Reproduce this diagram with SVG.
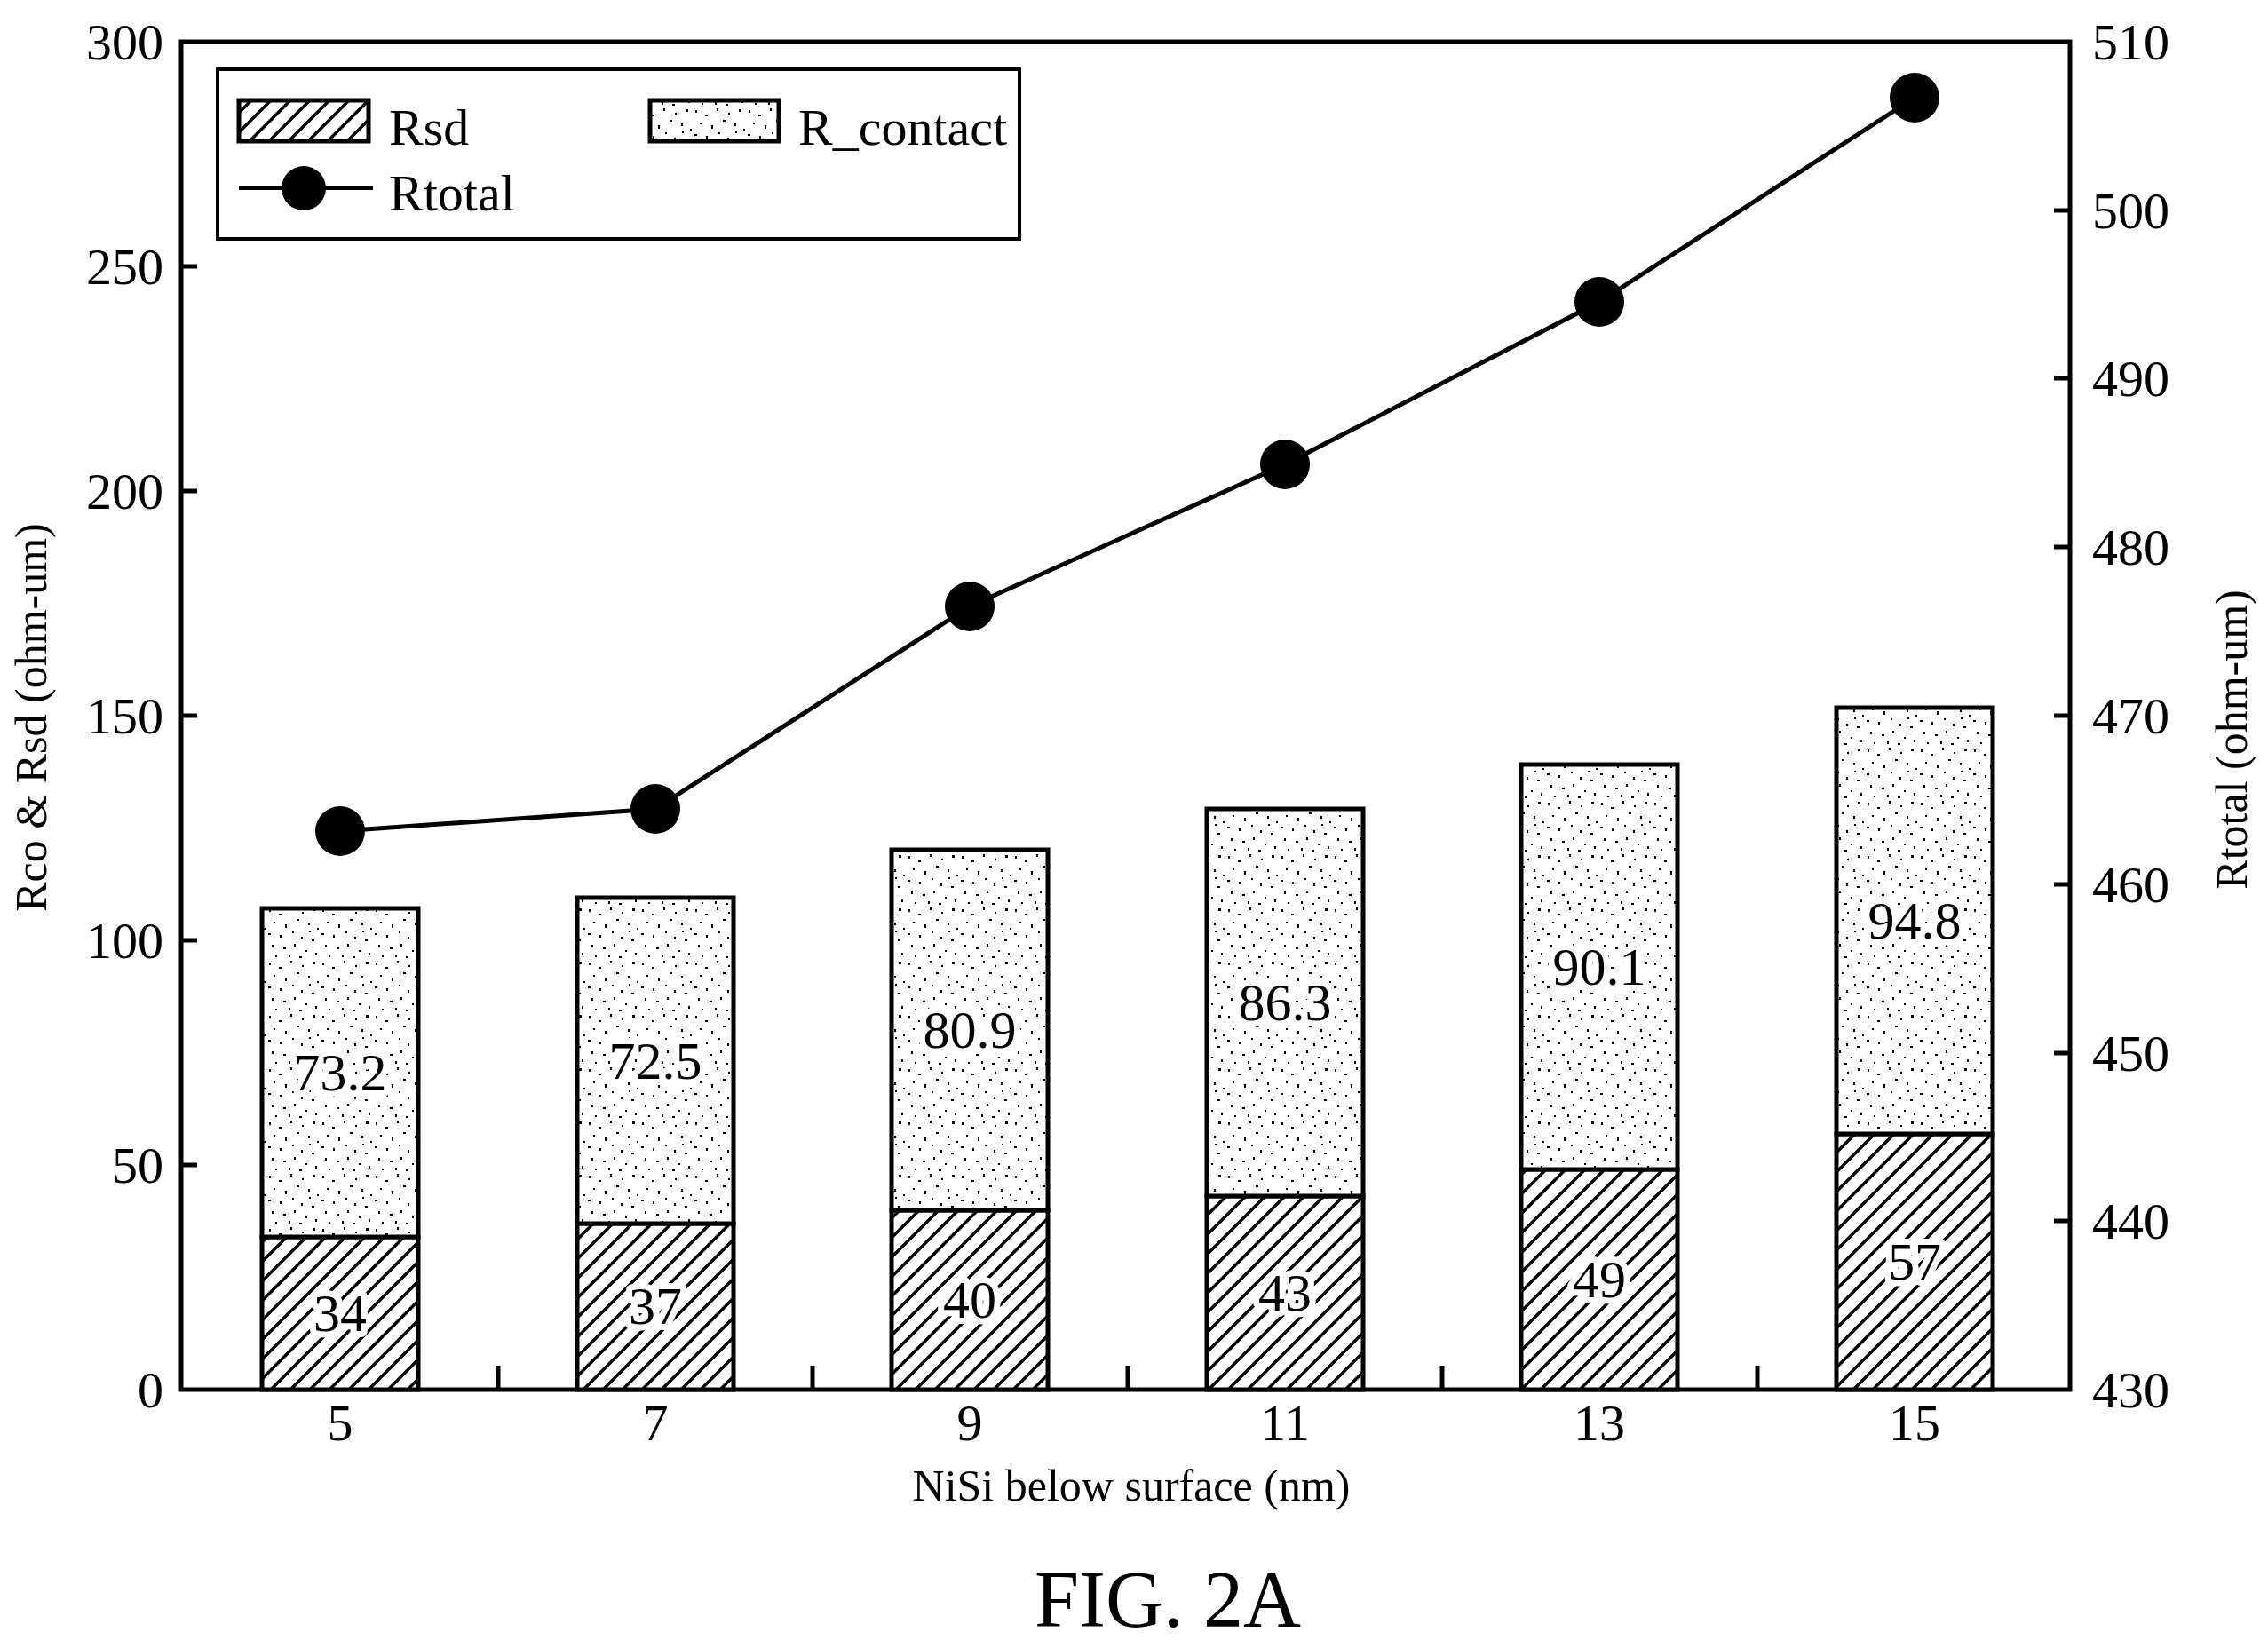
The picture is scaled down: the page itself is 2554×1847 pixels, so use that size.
<svg xmlns="http://www.w3.org/2000/svg" width="2554" height="1847" viewBox="0 0 2554 1847">
<style>
text{font-family:"Liberation Serif","Times New Roman",serif;fill:#000}
.t{font-size:58px}
.ax{fill:none;stroke:#000;stroke-width:5}
.bl{font-size:60px;text-anchor:middle;dominant-baseline:central;stroke:#fff;stroke-width:14;paint-order:stroke;stroke-linejoin:round}
.hat{fill:url(#hatch);stroke:#000;stroke-width:5}
.dot{fill:url(#stip);stroke:#000;stroke-width:5}
</style>
<defs>
<pattern id="hatch" patternUnits="userSpaceOnUse" width="22" height="22" patternTransform="rotate(0)">
<rect width="22" height="22" fill="#fff"/>
<path d="M-5,27 L27,-5 M-16,16 L16,-16 M6,38 L38,6" stroke="#000" stroke-width="3.5"/>
</pattern>
<pattern id="stip" patternUnits="userSpaceOnUse" width="60" height="60">
<rect width="60" height="60" fill="#fff"/>
<g fill="#000">
<rect x="3" y="4" width="2" height="3"/><rect x="14" y="9" width="3" height="2"/><rect x="27" y="2" width="2" height="3"/>
<rect x="40" y="7" width="2" height="2"/><rect x="52" y="3" width="3" height="3"/><rect x="8" y="18" width="2" height="2"/>
<rect x="21" y="21" width="2" height="4"/><rect x="34" y="15" width="3" height="2"/><rect x="47" y="19" width="2" height="3"/>
<rect x="57" y="25" width="2" height="2"/><rect x="2" y="31" width="3" height="2"/><rect x="15" y="33" width="2" height="3"/>
<rect x="29" y="29" width="2" height="2"/><rect x="39" y="35" width="2" height="3"/><rect x="51" y="38" width="3" height="2"/>
<rect x="6" y="44" width="2" height="3"/><rect x="19" y="47" width="3" height="2"/><rect x="31" y="43" width="2" height="3"/>
<rect x="44" y="50" width="2" height="2"/><rect x="55" y="53" width="2" height="3"/><rect x="10" y="56" width="2" height="2"/>
<rect x="25" y="55" width="2" height="3"/><rect x="37" y="57" width="3" height="2"/><rect x="48" y="28" width="2" height="2"/>
</g>
</pattern>
</defs>

<g id="axes">
<rect x="204" y="47" width="2127" height="1518" class="ax"/>
<path class="ax" d="M204,1312h18M204,1059h18M204,806h18M204,553h18M204,300h18
M2331,1375h-18M2331,1186h-18M2331,996h-18M2331,806h-18M2331,616h-18M2331,426h-18M2331,237h-18
M561,1565v-27M915,1565v-27M1270,1565v-27M1624,1565v-27M1979,1565v-27"/>
<g class="t" text-anchor="end">
<text x="184" y="1585">0</text><text x="184" y="1332">50</text><text x="184" y="1079">100</text>
<text x="184" y="826">150</text><text x="184" y="573">200</text><text x="184" y="320">250</text><text x="184" y="67">300</text>
</g>
<g class="t" text-anchor="start">
<text x="2356" y="1585">430</text><text x="2356" y="1395">440</text><text x="2356" y="1206">450</text>
<text x="2356" y="1016">460</text><text x="2356" y="826">470</text><text x="2356" y="636">480</text>
<text x="2356" y="446">490</text><text x="2356" y="257">500</text><text x="2356" y="67">510</text>
</g>
<g class="t" text-anchor="middle">
<text x="383" y="1622">5</text><text x="738" y="1622">7</text><text x="1092" y="1622">9</text>
<text x="1447" y="1622">11</text><text x="1801" y="1622">13</text><text x="2156" y="1622">15</text>
</g>
<text x="1274" y="1690" font-size="50" text-anchor="middle">NiSi below surface (nm)</text>
<text transform="translate(52,808) rotate(-90)" font-size="50" text-anchor="middle">Rco &amp; Rsd (ohm-um)</text>
<text transform="translate(2530,833) rotate(-90)" font-size="50" text-anchor="middle">Rtotal (ohm-um)</text>
</g>

<g id="bar-5"><rect class="hat" x="295" y="1393" width="176" height="172"/><rect class="dot" x="295" y="1023" width="176" height="370"/>
<text class="bl" x="383" y="1479">34</text><text class="bl" x="383" y="1208">73.2</text></g>
<g id="bar-7"><rect class="hat" x="650" y="1378" width="176" height="187"/><rect class="dot" x="650" y="1011" width="176" height="367"/>
<text class="bl" x="738" y="1471">37</text><text class="bl" x="738" y="1195">72.5</text></g>
<g id="bar-9"><rect class="hat" x="1004" y="1363" width="176" height="202"/><rect class="dot" x="1004" y="957" width="176" height="406"/>
<text class="bl" x="1092" y="1464">40</text><text class="bl" x="1092" y="1160">80.9</text></g>
<g id="bar-11"><rect class="hat" x="1359" y="1347" width="176" height="218"/><rect class="dot" x="1359" y="911" width="176" height="436"/>
<text class="bl" x="1447" y="1456">43</text><text class="bl" x="1447" y="1129">86.3</text></g>
<g id="bar-13"><rect class="hat" x="1713" y="1317" width="176" height="248"/><rect class="dot" x="1713" y="861" width="176" height="456"/>
<text class="bl" x="1801" y="1441">49</text><text class="bl" x="1801" y="1089">90.1</text></g>
<g id="bar-15"><rect class="hat" x="2068" y="1277" width="176" height="288"/><rect class="dot" x="2068" y="797" width="176" height="480"/>
<text class="bl" x="2156" y="1421">57</text><text class="bl" x="2156" y="1037">94.8</text></g>

<g id="connectors">
<polyline fill="none" stroke="#000" stroke-width="5" points="383,936 738,911 1092,683 1447,523 1801,340 2156,110"/>
</g>
<g id="rtotal-points" fill="#000">
<circle cx="383" cy="936" r="28"/><circle cx="738" cy="911" r="28"/><circle cx="1092" cy="683" r="28"/>
<circle cx="1447" cy="523" r="28"/><circle cx="1801" cy="340" r="28"/><circle cx="2156" cy="110" r="28"/>
</g>

<g id="legend">
<rect x="245" y="78" width="903" height="191" fill="#fff" stroke="#000" stroke-width="4"/>
<rect class="hat" x="269" y="113" width="146" height="46" stroke-width="4"/>
<text class="t" x="438" y="163">Rsd</text>
<rect class="dot" x="732" y="113" width="145" height="46" stroke-width="4"/>
<text class="t" x="899" y="163">R_contact</text>
<line x1="269" y1="212" x2="420" y2="212" stroke="#000" stroke-width="4"/>
<circle cx="342" cy="212" r="25"/>
<text class="t" x="438" y="237">Rtotal</text>
</g>

<text x="1315" y="1832" font-size="90" text-anchor="middle">FIG. 2A</text>
</svg>
